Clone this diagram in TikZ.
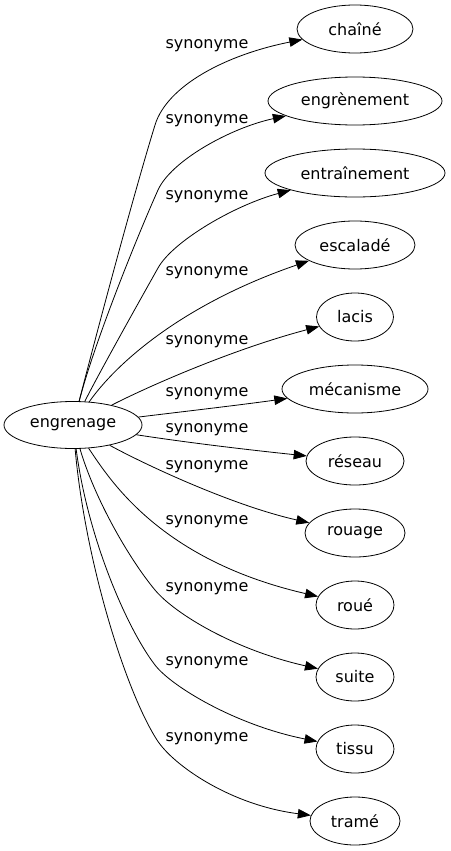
\documentclass[tikz,border=0pt]{standalone}
\usepackage{fontspec}
\setmainfont{DejaVu Sans}
\usetikzlibrary{shapes.geometric}
\usetikzlibrary{arrows.meta}

\begin{document}
\begin{tikzpicture}[x=1pt,y=-1pt,line width=0.8pt,
        word/.style={draw,ellipse,inner sep=0pt,minimum height=48pt,font=\fontsize{16}{19}\selectfont},
        syn/.style={-{Triangle[length=13pt,width=9.5pt]}},
        lbl/.style={font=\fontsize{16}{19}\selectfont}]
        \useasboundingbox (0,0) rectangle (450,851);
        \node[word,minimum width=138pt,minimum height=47pt] (engrenage) at (73,425) {engrenage};
        \node[word,minimum width=116pt] (chaine) at (355,29) {chaîné};
        \node[word,minimum width=174pt] (engrenement) at (355,101) {engrènement};
        \node[word,minimum width=180pt] (entrainement) at (355,173) {entraînement};
        \node[word,minimum width=120pt] (escalade) at (355,245) {escaladé};
        \node[word,minimum width=77pt] (lacis) at (355,317) {lacis};
        \node[word,minimum width=146pt] (mecanisme) at (355,389) {mécanisme};
        \node[word,minimum width=98pt] (reseau) at (355,461) {réseau};
        \node[word,minimum width=100pt] (rouage) at (355,533) {rouage};
        \node[word,minimum width=78pt] (roue) at (355,605) {roué};
        \node[word,minimum width=78pt] (suite) at (355,677) {suite};
        \node[word,minimum width=78pt] (tissu) at (355,749) {tissu};
        \node[word,minimum width=90pt] (trame) at (355,821) {tramé};
        \draw[syn] (engrenage) .. controls (100,320) and (135,190) .. (155,125) .. controls (167,86) and (225,55) .. (chaine);
        \draw[syn] (engrenage) .. controls (95,340) and (140,230) .. (158,190) .. controls (171,161) and (230,128) .. (engrenement);
        \draw[syn] (engrenage) .. controls (98,375) and (140,300) .. (158,268) .. controls (173,241) and (235,205) .. (entrainement);
        \draw[syn] (engrenage) .. controls (115,365) and (180,305) .. (escalade);
        \draw[syn] (engrenage) .. controls (145,388) and (230,350) .. (lacis);
        \draw[syn] (engrenage) .. controls (180,412) and (240,405) .. (mecanisme);
        \draw[syn] (engrenage) .. controls (190,443) and (250,450) .. (reseau);
        \draw[syn] (engrenage) .. controls (140,462) and (230,505) .. (rouage);
        \draw[syn] (engrenage) .. controls (110,480) and (160,560) .. (roue);
        \draw[syn] (engrenage) .. controls (95,500) and (130,560) .. (155,590) .. controls (175,614) and (235,650) .. (suite);
        \draw[syn] (engrenage) .. controls (88,540) and (128,630) .. (155,665) .. controls (171,686) and (235,725) .. (tissu);
        \draw[syn] (engrenage) .. controls (85,560) and (125,690) .. (157,740) .. controls (173,765) and (230,805) .. (trame);
        \node[lbl] (syn1) at (207,46) {synonyme};
        \node[lbl] (syn2) at (207,121) {synonyme};
        \node[lbl] (syn3) at (207,197) {synonyme};
        \node[lbl] (syn4) at (207,273) {synonyme};
        \node[lbl] (syn5) at (207,342) {synonyme};
        \node[lbl] (syn6) at (207,394) {synonyme};
        \node[lbl] (syn7) at (207,430) {synonyme};
        \node[lbl] (syn8) at (207,467) {synonyme};
        \node[lbl] (syn9) at (207,522) {synonyme};
        \node[lbl] (syn10) at (207,589) {synonyme};
        \node[lbl] (syn11) at (207,663) {synonyme};
        \node[lbl] (syn12) at (207,739) {synonyme};
\end{tikzpicture}
\end{document}
